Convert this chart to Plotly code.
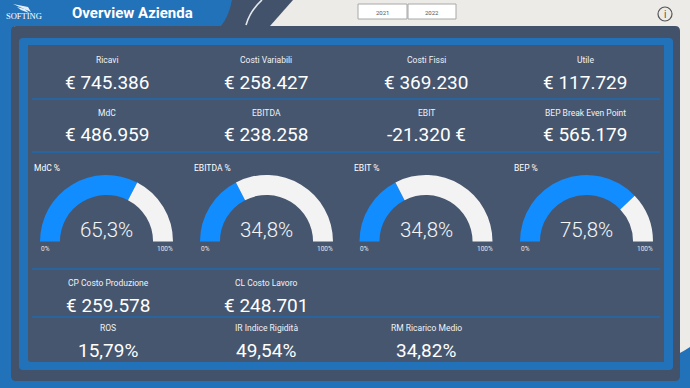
import plotly.graph_objects as go

kpi_labels = ["Ricavi", "Costi Variabili", "Costi Fissi", "Utile",
              "MdC", "EBITDA", "EBIT", "BEP Break Even Point",
              "CP Costo Produzione", "CL Costo Lavoro",
              "ROS", "IR Indice Rigidità", "RM Ricarico Medio"]
kpi_values = ["€ 745.386", "€ 258.427", "€ 369.230", "€ 117.729",
              "€ 486.959", "€ 238.258", "-21.320 €", "€ 565.179",
              "€ 259.578", "€ 248.701",
              "15,79%", "49,54%", "34,82%"]
kpi_x = [107, 266, 426, 585, 107, 266, 426, 585, 108, 266, 108, 266, 426]
kpi_label_y = [60, 60, 60, 60, 113, 113, 113, 113, 283, 283, 328, 328, 328]
kpi_value_y = [82, 82, 82, 82, 134, 134, 134, 134, 305, 305, 350, 350, 350]

gauge_titles = ["MdC %", "EBITDA %", "EBIT %", "BEP %"]
gauge_values = [65.3, 34.8, 34.8, 75.8]
gauge_text = ["65,3%", "34,8%", "34,8%", "75,8%"]
gauge_cx = [106.5, 266.5, 426, 586.5]
gauge_title_x = [32, 192, 352, 512]

W, H = 690, 388
R, CY = 66.5, 241.5
LIGHT, BLUE, SLATE, PANEL = "#ECEBE8", "#2272B9", "#42526B", "#46566F"
ARC_BLUE, ARC_WHITE = "#118DFF", "#F3F3F3"
FONT = "Roboto"

fig = go.Figure()
for v, cx in zip(gauge_values, gauge_cx):
    fig.add_trace(go.Pie(
        values=[v, 100 - v, 100], rotation=270, direction="clockwise", sort=False,
        hole=0.7, textinfo="none", hoverinfo="skip", showlegend=False,
        marker=dict(colors=[ARC_BLUE, ARC_WHITE, "rgba(0,0,0,0)"], line=dict(width=0)),
        domain=dict(x=[(cx - R) / W, (cx + R) / W],
                    y=[1 - (CY + R) / H, 1 - (CY - R) / H]),
    ))


def rrect(x0, y0, x1, y1, r):
    return (f"M{x0+r},{y0} L{x1-r},{y0} Q{x1},{y0} {x1},{y0+r} L{x1},{y1-r} Q{x1},{y1} {x1-r},{y1} "
            f"L{x0+r},{y1} Q{x0},{y1} {x0},{y1-r} L{x0},{y0+r} Q{x0},{y0} {x0+r},{y0} Z")


def shape(path, fill, line=None, lw=0):
    return dict(type="path", path=path, fillcolor=fill, xref="x", yref="y", layer="below",
                line=dict(color=line or fill, width=lw))


shapes = [
    # slate swoosh behind the header
    shape("M225,0 L293,0 L270,26 L215,30 Z", SLATE),
    # white arc in the swoosh
    dict(type="path", path="M262,0 Q250,11 246,25", line=dict(color="#E4E8EE", width=1.6),
         xref="x", yref="y", layer="below"),
    # header
    shape("M0,0 L232,0 Q229,16 221,26 L0,26 Z", BLUE),
    # left and bottom bands
    shape("M0,0 L14,0 L14,388 L0,388 Z", BLUE),
    shape("M0,380 L600,380 L690,372 L690,388 L0,388 Z", BLUE),
    shape("M678,354 Q684,351 690,347 L690,388 L640,388 Z", BLUE),
    # panels
    shape(rrect(11, 26, 680, 381, 5), SLATE),
    shape(rrect(19, 38, 673, 370, 4), BLUE),
    shape("M28,45 L664,45 L664,362 L31,362 Q28,362 28,359 Z", PANEL),
]
for y in [99, 152, 269, 317]:
    shapes.append(dict(type="line", x0=32, x1=660, y0=y, y1=y, xref="x", yref="y", layer="below",
                       line=dict(color="#2A649F", width=2)))
for x0, x1 in [(358, 407), (408, 456)]:
    shapes.append(dict(type="rect", x0=x0, x1=x1, y0=4, y1=19, xref="x", yref="y", layer="below",
                       fillcolor="#FFFFFF", line=dict(color="#A8A8A8", width=1)))
shapes.append(dict(type="circle", x0=658, x1=672, y0=7, y1=21, xref="x", yref="y", layer="below",
                   line=dict(color="#555555", width=1.2)))
# logo wing
for p in ["M13,4 L28,7 L31,12 L22,8 Z", "M17,7 L25,9 L29,13 L21,10 Z"]:
    shapes.append(shape(p, "#E4EEF8"))

ann = []


def text(x, y, s, size, color="#FFFFFF", anchor="center", family=FONT, weight=None):
    ann.append(dict(x=x, y=y, text=s, xref="x", yref="y", showarrow=False, xanchor=anchor,
                    yanchor="middle", font=dict(family=family, size=size, color=color, weight=weight)))


for x, ly, vy, l, v in zip(kpi_x, kpi_label_y, kpi_value_y, kpi_labels, kpi_values):
    text(x, ly, l, 8.5, "#F0F2F5")
    text(x, vy, v, 19, "#FFFFFF")
for t, tx, cx, s in zip(gauge_titles, gauge_title_x, gauge_cx, gauge_text):
    text(tx, 168, t, 8.5, anchor="left")
    text(cx, 230, s, 20.5, "#F4F6F8", weight=300)
    text(cx - R + 5, 249, "0%", 6.5, "#E4E7EC")
    text(cx + R - 8, 249, "100%", 6.5, "#E4E7EC")
text(70, 13, "Overview Azienda", 15, anchor="left", weight=700)
text(23.5, 16, "SOFTING", 8.5, family="Liberation Serif")
text(382.5, 12, "2021", 6, "#555555")
text(432, 12, "2022", 6, "#555555")
text(665, 14, "i", 10, "#555555")

fig.update_layout(
    width=W, height=H, margin=dict(l=0, r=0, t=0, b=0), autosize=False,
    paper_bgcolor=LIGHT, plot_bgcolor=LIGHT, showlegend=False,
    xaxis=dict(range=[0, W], visible=False, fixedrange=True),
    yaxis=dict(range=[H, 0], visible=False, fixedrange=True),
    shapes=shapes, annotations=ann,
)
fig.write_html("out.html", config=dict(displayModeBar=False),
               post_script="document.body.style.margin='0';document.body.style.overflow='hidden';")
